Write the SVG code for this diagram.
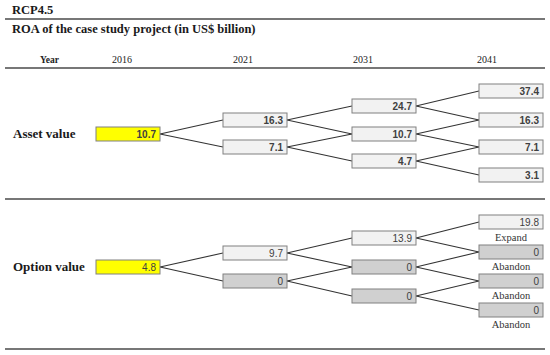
<svg xmlns="http://www.w3.org/2000/svg" width="550" height="355" viewBox="0 0 550 355">
<style>
.hd{font-family:"Liberation Serif",serif;font-weight:bold;font-size:12.5px;fill:#1a1a1a}
.yr{font-family:"Liberation Serif",serif;font-size:10px;fill:#222;text-anchor:middle}
.yb{font-family:"Liberation Serif",serif;font-weight:bold;font-size:9.5px;fill:#222;text-anchor:end}
.rl{font-family:"Liberation Serif",serif;font-weight:bold;font-size:13px;fill:#1a1a1a}
.lab{font-family:"Liberation Serif",serif;font-size:10.5px;fill:#333;text-anchor:middle}
.rule{stroke:#4a4a4a;stroke-width:1.5}
.b rect{stroke:#808080;stroke-width:1}
.lt rect{fill:#f2f2f2}
.gr rect{fill:#d0d0d0}
.ye rect{fill:#ffff00}
.b text{font-family:"Liberation Sans",Arial,sans-serif;font-size:10px;fill:#404040;text-anchor:end}
.av text{font-weight:bold}
#connectors line{stroke:#333;stroke-width:1.1}
</style>
<text class="hd" x="12" y="14">RCP4.5</text>
<line class="rule" x1="5" y1="19" x2="545" y2="19"/>
<text class="hd" x="12" y="33">ROA of the case study project (in US$ billion)</text>
<text class="yb" x="59" y="63">Year</text>
<text class="yr" x="122" y="63">2016</text>
<text class="yr" x="243" y="63">2021</text>
<text class="yr" x="363" y="63">2031</text>
<text class="yr" x="487" y="63">2041</text>
<line class="rule" x1="5" y1="68" x2="545" y2="68"/>
<text class="rl" x="13" y="138">Asset value</text>
<line class="rule" x1="5" y1="199" x2="545" y2="199"/>
<text class="rl" x="13" y="271">Option value</text>
<line class="rule" x1="5" y1="349" x2="545" y2="349"/>
<g id="connectors">
<line x1="160" y1="134" x2="223" y2="120"/>
<line x1="160" y1="134" x2="223" y2="147"/>
<line x1="287" y1="120" x2="352" y2="106"/>
<line x1="287" y1="120" x2="352" y2="134"/>
<line x1="287" y1="147" x2="352" y2="134"/>
<line x1="287" y1="147" x2="352" y2="161"/>
<line x1="416" y1="106" x2="479" y2="91"/>
<line x1="416" y1="106" x2="479" y2="120"/>
<line x1="416" y1="134" x2="479" y2="120"/>
<line x1="416" y1="134" x2="479" y2="147"/>
<line x1="416" y1="161" x2="479" y2="147"/>
<line x1="416" y1="161" x2="479" y2="175"/>
<line x1="160" y1="267" x2="223" y2="253"/>
<line x1="160" y1="267" x2="223" y2="281"/>
<line x1="287" y1="253" x2="352" y2="238"/>
<line x1="287" y1="253" x2="352" y2="267"/>
<line x1="287" y1="281" x2="352" y2="267"/>
<line x1="287" y1="281" x2="352" y2="296"/>
<line x1="416" y1="238" x2="479" y2="222"/>
<line x1="416" y1="238" x2="479" y2="252"/>
<line x1="416" y1="267" x2="479" y2="252"/>
<line x1="416" y1="267" x2="479" y2="281"/>
<line x1="416" y1="296" x2="479" y2="281"/>
<line x1="416" y1="296" x2="479" y2="310"/>
</g>
<g class="av">
<g id="a2016" class="b ye"><rect x="96" y="127" width="64" height="14"/><text x="156" y="138">10.7</text></g>
<g id="a2021u" class="b lt"><rect x="223" y="113" width="64" height="14"/><text x="283" y="124">16.3</text></g>
<g id="a2021d" class="b lt"><rect x="223" y="140" width="64" height="14"/><text x="283" y="151">7.1</text></g>
<g id="a2031u" class="b lt"><rect x="352" y="99" width="64" height="14"/><text x="412" y="110">24.7</text></g>
<g id="a2031m" class="b lt"><rect x="352" y="127" width="64" height="14"/><text x="412" y="138">10.7</text></g>
<g id="a2031d" class="b lt"><rect x="352" y="154" width="64" height="14"/><text x="412" y="165">4.7</text></g>
<g id="a2041a" class="b lt"><rect x="479" y="84" width="64" height="14"/><text x="539" y="95">37.4</text></g>
<g id="a2041b" class="b lt"><rect x="479" y="113" width="64" height="14"/><text x="539" y="124">16.3</text></g>
<g id="a2041c" class="b lt"><rect x="479" y="140" width="64" height="14"/><text x="539" y="151">7.1</text></g>
<g id="a2041d" class="b lt"><rect x="479" y="168" width="64" height="14"/><text x="539" y="179">3.1</text></g>
</g>
<g id="o2016" class="b ye"><rect x="96" y="260" width="64" height="14"/><text x="156" y="271">4.8</text></g>
<g id="o2021u" class="b lt"><rect x="223" y="246" width="64" height="14"/><text x="283" y="257">9.7</text></g>
<g id="o2021d" class="b gr"><rect x="223" y="274" width="64" height="14"/><text x="283" y="285">0</text></g>
<g id="o2031u" class="b lt"><rect x="352" y="231" width="64" height="14"/><text x="412" y="242">13.9</text></g>
<g id="o2031m" class="b gr"><rect x="352" y="260" width="64" height="14"/><text x="412" y="271">0</text></g>
<g id="o2031d" class="b gr"><rect x="352" y="289" width="64" height="14"/><text x="412" y="300">0</text></g>
<g id="o2041a" class="b lt"><rect x="479" y="215" width="64" height="14"/><text x="539" y="226">19.8</text></g>
<g id="o2041b" class="b gr"><rect x="479" y="245" width="64" height="14"/><text x="539" y="256">0</text></g>
<g id="o2041c" class="b gr"><rect x="479" y="274" width="64" height="14"/><text x="539" y="285">0</text></g>
<g id="o2041d" class="b gr"><rect x="479" y="303" width="64" height="14"/><text x="539" y="314">0</text></g>
<text class="lab" x="511" y="241">Expand</text>
<text class="lab" x="511" y="270">Abandon</text>
<text class="lab" x="511" y="299">Abandon</text>
<text class="lab" x="511" y="328">Abandon</text>
</svg>
